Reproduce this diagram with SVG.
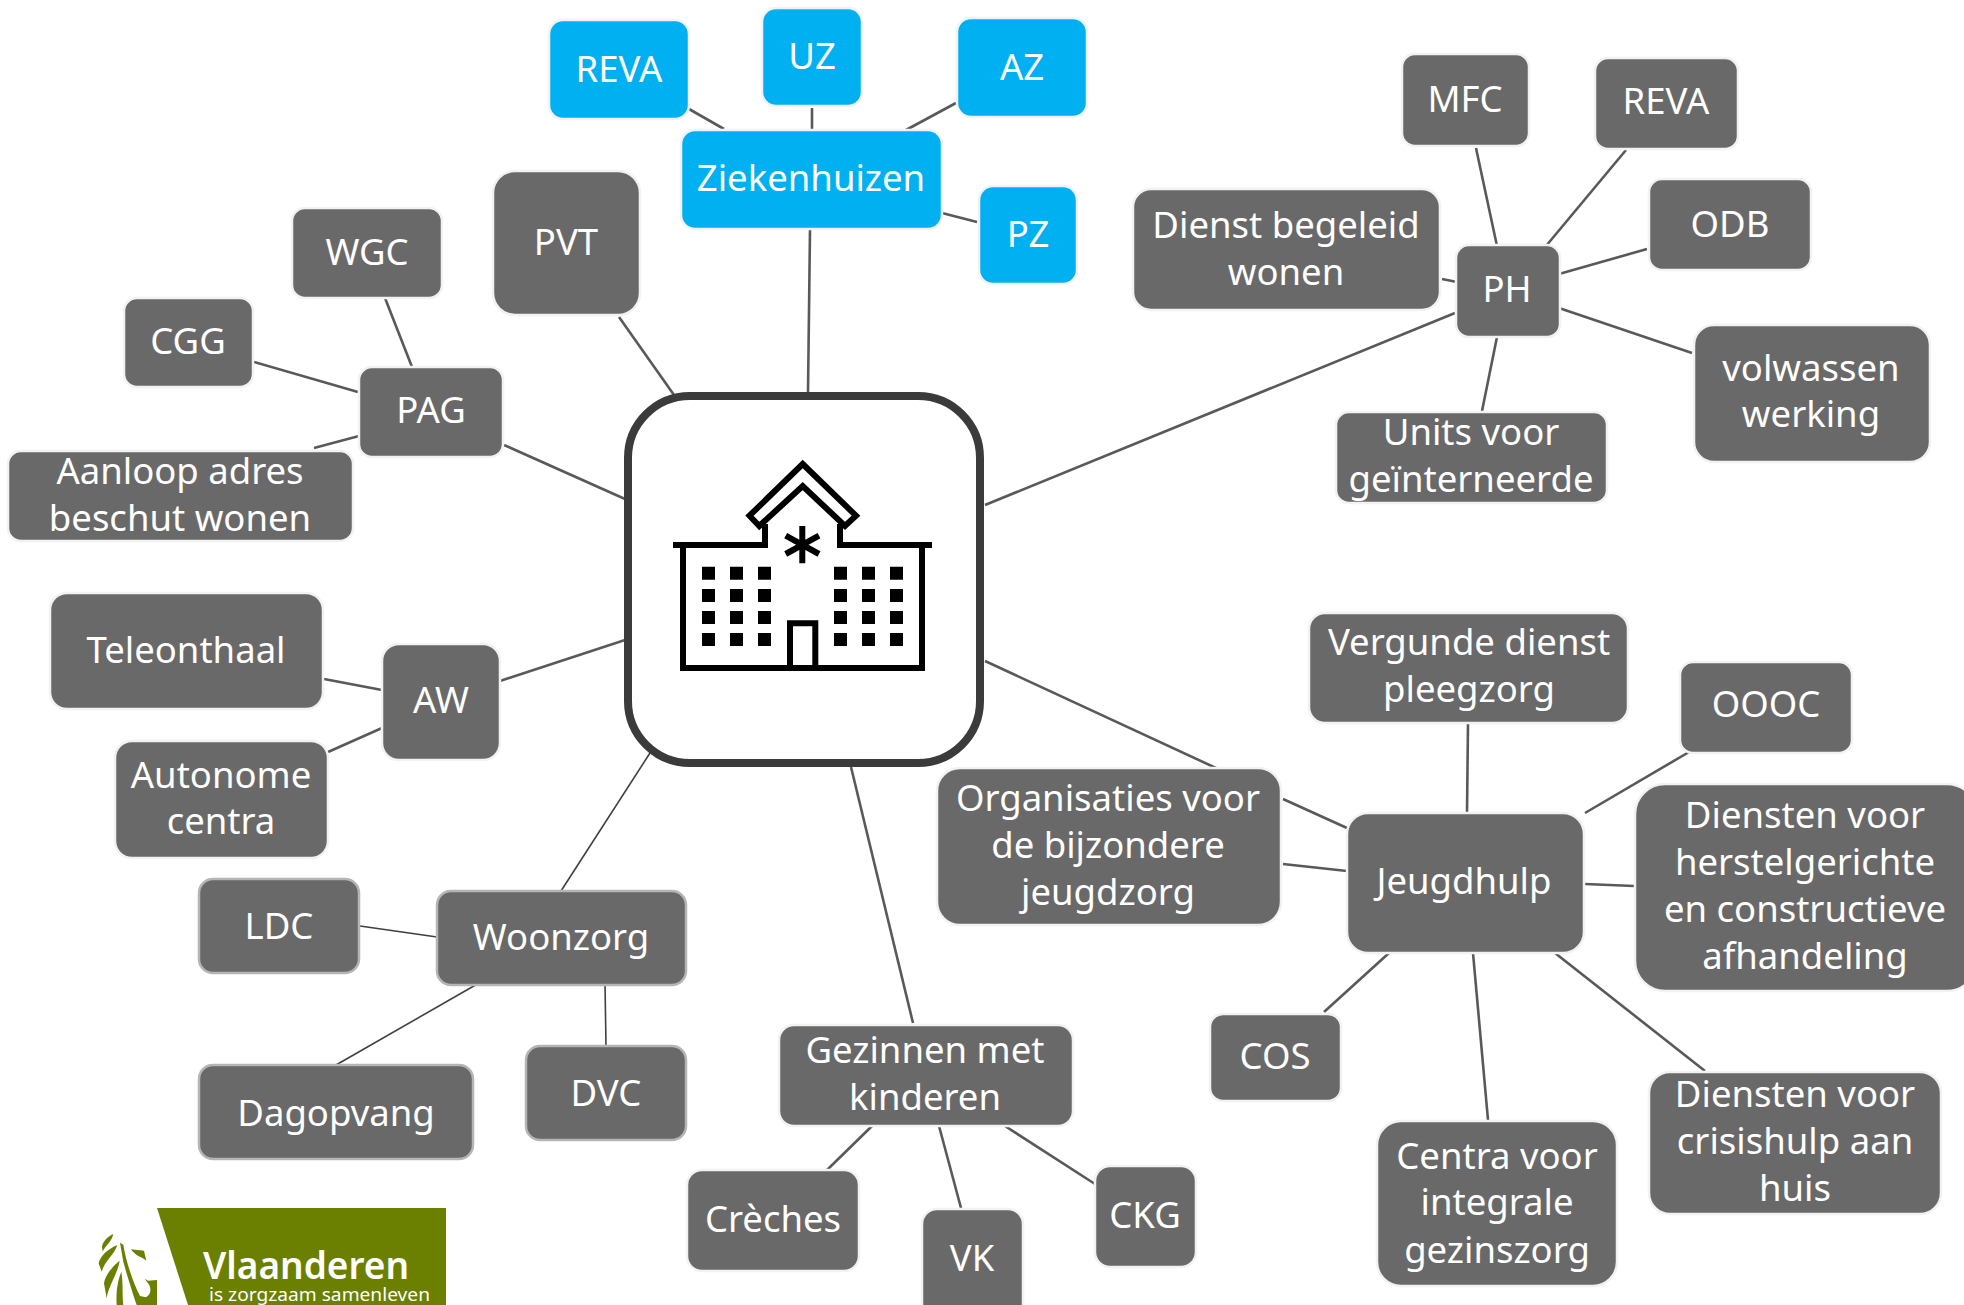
<svg xmlns="http://www.w3.org/2000/svg" width="1964" height="1305" viewBox="0 0 1964 1305">
<style>
.g{fill:#696969;stroke:#f2f2f2;stroke-width:2.5}
.s{stroke:#b5b5b5}
.b{fill:#00b0f0;stroke:#f2f2f2;stroke-width:2.5}
.t{fill:#fff;font-family:"Noto Sans",sans-serif;font-size:36.5px;text-anchor:middle}
#connectors line{stroke:#595959;stroke-width:2.6;fill:none}
#connectors line.thin{stroke-width:1.6;stroke:#404040}
.ic{fill:none;stroke:#000;stroke-width:6}
.w{fill:#000}
.lion{fill:#6b8000}
</style>
<rect width="1964" height="1305" fill="#fff"/>
<g id="connectors">
<line x1="689" y1="109" x2="724" y2="129"/>
<line x1="812" y1="108" x2="812" y2="129"/>
<line x1="956" y1="103" x2="906" y2="130"/>
<line x1="942" y1="213" x2="977" y2="222"/>
<line x1="810" y1="230" x2="808" y2="392"/>
<line x1="619" y1="317" x2="674" y2="395"/>
<line x1="385" y1="298" x2="412" y2="367"/>
<line x1="254" y1="362" x2="358" y2="392"/>
<line x1="314" y1="448" x2="359" y2="436"/>
<line x1="504" y1="445" x2="625" y2="499"/>
<line x1="324" y1="679" x2="382" y2="690"/>
<line x1="328" y1="752" x2="382" y2="728"/>
<line x1="500" y1="681" x2="625" y2="640"/>
<line class="thin" x1="561" y1="891" x2="650" y2="753"/>
<line class="thin" x1="360" y1="926" x2="437" y2="937"/>
<line class="thin" x1="336" y1="1065" x2="479" y2="983"/>
<line class="thin" x1="605" y1="983" x2="606" y2="1046"/>
<line x1="913" y1="1023" x2="851" y2="767"/>
<line x1="827" y1="1170" x2="872" y2="1126"/>
<line x1="961" y1="1208" x2="939" y2="1126"/>
<line x1="1095" y1="1184" x2="1005" y2="1126"/>
<line x1="1476" y1="148" x2="1497" y2="246"/>
<line x1="1626" y1="150" x2="1546" y2="246"/>
<line x1="1647" y1="249" x2="1559" y2="274"/>
<line x1="1442" y1="279" x2="1457" y2="282"/>
<line x1="1692" y1="353" x2="1559" y2="308"/>
<line x1="1497" y1="337" x2="1482" y2="411"/>
<line x1="985" y1="505" x2="1455" y2="313"/>
<line x1="985" y1="661" x2="1216" y2="768"/>
<line x1="1468" y1="724" x2="1467" y2="813"/>
<line x1="1689" y1="752" x2="1585" y2="813"/>
<line x1="1283" y1="799" x2="1347" y2="828"/>
<line x1="1283" y1="864" x2="1347" y2="871"/>
<line x1="1585" y1="884" x2="1634" y2="886"/>
<line x1="1324" y1="1012" x2="1389" y2="953"/>
<line x1="1488" y1="1120" x2="1473" y2="953"/>
<line x1="1705" y1="1071" x2="1555" y2="953"/>
</g>
<g id="center">
<rect x="628" y="396" width="352" height="367" rx="62" fill="#fff" stroke="#3b3b3b" stroke-width="8"/>
<path class="ic" d="M683 545V668H922V545M673 545H765V524M840 524V545H932"/>
<path class="ic" d="M802.7 464L856 515.7L845 526L802.7 486L759.3 526L749.5 515.7Z"/>
<path class="ic" d="M790 667V623.3H815.3V667"/>
<path class="ic" d="M802.3 526V563.3M785.7 535.7L819 554M785.7 554L819 535.7"/>
<path class="w" d="M702 566.7h13v13h-13zM730 566.7h13v13h-13zM758 566.7h13v13h-13zM834 566.7h13v13h-13zM862 566.7h13v13h-13zM890 566.7h13v13h-13zM702 589h13v13h-13zM730 589h13v13h-13zM758 589h13v13h-13zM834 589h13v13h-13zM862 589h13v13h-13zM890 589h13v13h-13zM702 611h13v13h-13zM730 611h13v13h-13zM758 611h13v13h-13zM834 611h13v13h-13zM862 611h13v13h-13zM890 611h13v13h-13zM702 633h13v13h-13zM730 633h13v13h-13zM758 633h13v13h-13zM834 633h13v13h-13zM862 633h13v13h-13zM890 633h13v13h-13z"/>
</g>
<g id="n-reva-z"><rect class="b" x="549" y="20" width="140" height="99" rx="14"/><text class="t" x="619" y="82">REVA</text></g>
<g id="n-uz"><rect class="b" x="762" y="8" width="100" height="98" rx="14"/><text class="t" x="812" y="69">UZ</text></g>
<g id="n-az"><rect class="b" x="957" y="18" width="130" height="99" rx="14"/><text class="t" x="1022" y="80">AZ</text></g>
<g id="n-ziekenhuizen"><rect class="b" x="681" y="130" width="261" height="99" rx="14"/><text class="t" x="811" y="191">Ziekenhuizen</text></g>
<g id="n-pz"><rect class="b" x="979" y="186" width="98" height="98" rx="14"/><text class="t" x="1028" y="247">PZ</text></g>
<g id="n-pvt"><rect class="g" x="493" y="171" width="147" height="144" rx="22"/><text class="t" x="566" y="255">PVT</text></g>
<g id="n-wgc"><rect class="g" x="292" y="208" width="150" height="90" rx="13"/><text class="t" x="367" y="265">WGC</text></g>
<g id="n-cgg"><rect class="g" x="124" y="298" width="129" height="89" rx="13"/><text class="t" x="188" y="354">CGG</text></g>
<g id="n-pag"><rect class="g" x="359" y="367" width="144" height="90" rx="13"/><text class="t" x="431" y="423">PAG</text></g>
<g id="n-aanloop"><rect class="g" x="8" y="451" width="345" height="90" rx="13"/><text class="t" x="180" y="484">Aanloop adres</text><text class="t" x="180" y="531">beschut wonen</text></g>
<g id="n-teleonthaal"><rect class="g" x="50" y="593" width="273" height="116" rx="17"/><text class="t" x="186" y="663">Teleonthaal</text></g>
<g id="n-aw"><rect class="g" x="382" y="644" width="118" height="116" rx="17"/><text class="t" x="441" y="713">AW</text></g>
<g id="n-autonome"><rect class="g" x="115" y="741" width="213" height="117" rx="17"/><text class="t" x="221" y="788">Autonome</text><text class="t" x="221" y="834">centra</text></g>
<g id="n-ldc"><rect class="g s" x="199" y="879" width="160" height="94" rx="14"/><text class="t" x="279" y="939">LDC</text></g>
<g id="n-woonzorg"><rect class="g s" x="437" y="891" width="249" height="94" rx="14"/><text class="t" x="561" y="950">Woonzorg</text></g>
<g id="n-dagopvang"><rect class="g s" x="199" y="1065" width="274" height="94" rx="14"/><text class="t" x="336" y="1126">Dagopvang</text></g>
<g id="n-dvc"><rect class="g s" x="526" y="1046" width="160" height="94" rx="14"/><text class="t" x="606" y="1106">DVC</text></g>
<g id="n-gezinnen"><rect class="g" x="779" y="1025" width="294" height="101" rx="15"/><text class="t" x="925" y="1063">Gezinnen met</text><text class="t" x="925" y="1110">kinderen</text></g>
<g id="n-creches"><rect class="g" x="687" y="1170" width="172" height="101" rx="15"/><text class="t" x="773" y="1232">Crèches</text></g>
<g id="n-vk"><rect class="g" x="922" y="1209" width="101" height="110" rx="15"/><text class="t" x="972" y="1271">VK</text></g>
<g id="n-ckg"><rect class="g" x="1095" y="1166" width="101" height="101" rx="15"/><text class="t" x="1145" y="1228">CKG</text></g>
<g id="n-mfc"><rect class="g" x="1402" y="54" width="127" height="92" rx="13"/><text class="t" x="1465" y="112">MFC</text></g>
<g id="n-reva-ph"><rect class="g" x="1595" y="58" width="143" height="91" rx="13"/><text class="t" x="1666" y="114">REVA</text></g>
<g id="n-odb"><rect class="g" x="1649" y="179" width="162" height="91" rx="13"/><text class="t" x="1730" y="237">ODB</text></g>
<g id="n-dienst"><rect class="g" x="1133" y="189" width="307" height="121" rx="18"/><text class="t" x="1286" y="238">Dienst begeleid</text><text class="t" x="1286" y="285">wonen</text></g>
<g id="n-ph"><rect class="g" x="1456" y="245" width="104" height="92" rx="13"/><text class="t" x="1507" y="302">PH</text></g>
<g id="n-volwassen"><rect class="g" x="1694" y="325" width="236" height="137" rx="20"/><text class="t" x="1811" y="381">volwassen</text><text class="t" x="1811" y="427">werking</text></g>
<g id="n-units"><rect class="g" x="1336" y="412" width="271" height="91" rx="13"/><text class="t" x="1471" y="445">Units voor</text><text class="t" x="1471" y="492">geïnterneerde</text></g>
<g id="n-vergunde"><rect class="g" x="1309" y="613" width="319" height="110" rx="16"/><text class="t" x="1469" y="655">Vergunde dienst</text><text class="t" x="1469" y="702">pleegzorg</text></g>
<g id="n-oooc"><rect class="g" x="1680" y="662" width="172" height="91" rx="13"/><text class="t" x="1766" y="717">OOOC</text></g>
<g id="n-org"><rect class="g" x="937" y="768" width="344" height="157" rx="23"/><text class="t" x="1108" y="811">Organisaties voor</text><text class="t" x="1108" y="858">de bijzondere</text><text class="t" x="1108" y="905">jeugdzorg</text></g>
<g id="n-jeugdhulp"><rect class="g" x="1347" y="813" width="237" height="140" rx="21"/><text class="t" x="1464" y="894">Jeugdhulp</text></g>
<g id="n-herstel"><rect class="g" x="1635" y="784" width="342" height="207" rx="30"/><text class="t" x="1805" y="828">Diensten voor</text><text class="t" x="1805" y="875">herstelgerichte</text><text class="t" x="1805" y="922">en constructieve</text><text class="t" x="1805" y="969">afhandeling</text></g>
<g id="n-cos"><rect class="g" x="1210" y="1014" width="131" height="87" rx="13"/><text class="t" x="1275" y="1069">COS</text></g>
<g id="n-centra"><rect class="g" x="1377" y="1121" width="240" height="165" rx="24"/><text class="t" x="1497" y="1169">Centra voor</text><text class="t" x="1497" y="1215">integrale</text><text class="t" x="1497" y="1263">gezinszorg</text></g>
<g id="n-crisis"><rect class="g" x="1649" y="1072" width="292" height="142" rx="21"/><text class="t" x="1795" y="1107">Diensten voor</text><text class="t" x="1795" y="1154">crisishulp aan</text><text class="t" x="1795" y="1201">huis</text></g>
<g id="logo">
<path d="M157 1208H446V1305H188Z" fill="#6b8000"/>
<text x="203" y="1279" fill="#fff" font-family="'Noto Sans',sans-serif" font-size="37" font-weight="600" textLength="206" lengthAdjust="spacingAndGlyphs">Vlaanderen</text>
<text x="209" y="1301" fill="#fff" font-family="'Noto Sans',sans-serif" font-size="18" textLength="221" lengthAdjust="spacingAndGlyphs">is zorgzaam samenleven</text>
<g transform="translate(80 1220) scale(.3333)">
<path class="lion" d="M100 42C82 50 68 65 66 80L68 95C76 76 94 68 100 42Z"/>
<path class="lion" d="M112 75C85 86 60 108 56 130L65 155C75 122 102 106 112 75Z"/>
<path class="lion" d="M119 122C95 140 74 170 72 190L80 235C86 195 112 165 119 122Z"/>
<path class="lion" d="M124 155C112 185 108 215 110 255H130C126 220 130 190 124 155Z"/>
<path class="lion" d="M120 68L130 74C138 125 160 190 180 228L198 232C208 225 216 215 208 195L194 176L204 182L231 180V255H170C160 225 142 170 130 125Z"/>
<path class="lion" d="M153 88L192 92L199 122C188 112 165 108 153 88Z"/>
</g>
</g>
</svg>
